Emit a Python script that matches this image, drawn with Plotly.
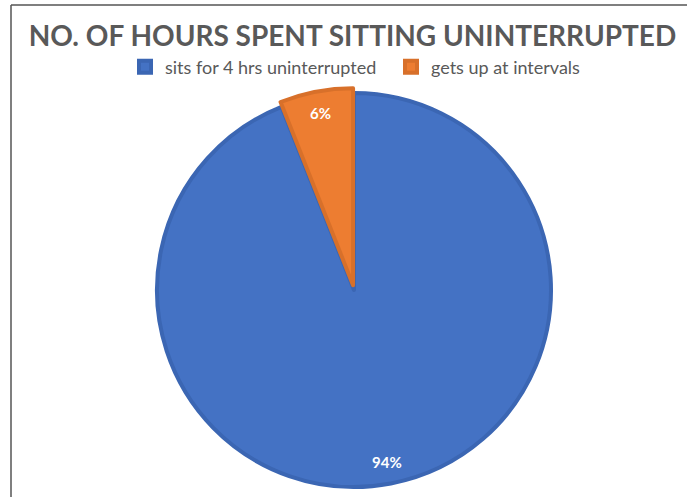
import math
import plotly.graph_objects as go

labels = ["sits for 4 hrs uninterrupted", "gets up at intervals"]
values = [94, 6]
colors = ["#4472C4", "#ED7D31"]
edge_colors = ["#3B66B3", "#D8702A"]
pulls = [0, 0.025]

W, H = 687, 497
cx, cy, r = 354, 290, 197
half = r * (1 + max(pulls))

fig = go.Figure(go.Pie(
    labels=labels,
    values=values,
    sort=False,
    direction="clockwise",
    rotation=0,
    pull=pulls,
    marker=dict(colors=colors, line=dict(color=edge_colors, width=4)),
    textinfo="none",
    domain=dict(x=[(cx - half) / W, (cx + half) / W],
                y=[1 - (cy + half) / H, 1 - (cy - half) / H]),
    showlegend=True,
))

# data labels at the "inside end" of each slice, computed from the values
total = sum(values)
annotations = []
start = 0.0
for v, p in zip(values, pulls):
    mid = (start + v / 2) / total * 2 * math.pi  # clockwise from 12 o'clock
    rr = r * (0.89 + p)
    x = cx + rr * math.sin(mid)
    y = cy - rr * math.cos(mid)
    annotations.append(dict(
        text="<b>%d%%</b>" % round(v / total * 100),
        x=x / W, y=1 - y / H, xref="paper", yref="paper",
        showarrow=False, xanchor="center", yanchor="middle",
        font=dict(family="Lato", size=15, color="white"),
    ))
    start += v

fig.update_layout(
    width=W, height=H,
    margin=dict(l=0, r=0, t=0, b=0),
    paper_bgcolor="white",
    title=dict(text="<b>NO. OF HOURS SPENT SITTING UNINTERRUPTED</b>",
               x=352.5 / W, xanchor="center", y=1 - 36.5 / H, yanchor="middle",
               font=dict(family="Lato", size=28, color="#595959")),
    legend=dict(orientation="h", x=125 / W, xanchor="left", y=1 - 67 / H, yanchor="middle",
                font=dict(family="Lato", size=18, color="#595959"),
                itemclick=False, itemdoubleclick=False, bgcolor="rgba(0,0,0,0)",
                traceorder="normal", itemwidth=30,
                entrywidth=221, entrywidthmode="pixels"),
    annotations=annotations,
    shapes=[
        dict(type="line", xref="paper", yref="paper", x0=11 / W, x1=1, y0=1 - 5 / H, y1=1 - 5 / H,
             line=dict(color="#555555", width=1.5)),
        dict(type="line", xref="paper", yref="paper", x0=11 / W, x1=11 / W, y0=0, y1=1 - 5 / H,
             line=dict(color="#555555", width=1.5)),
    ],
)

fig.write_html("out.html", config={"displayModeBar": False},
               post_script="document.body.style.margin='0';")
